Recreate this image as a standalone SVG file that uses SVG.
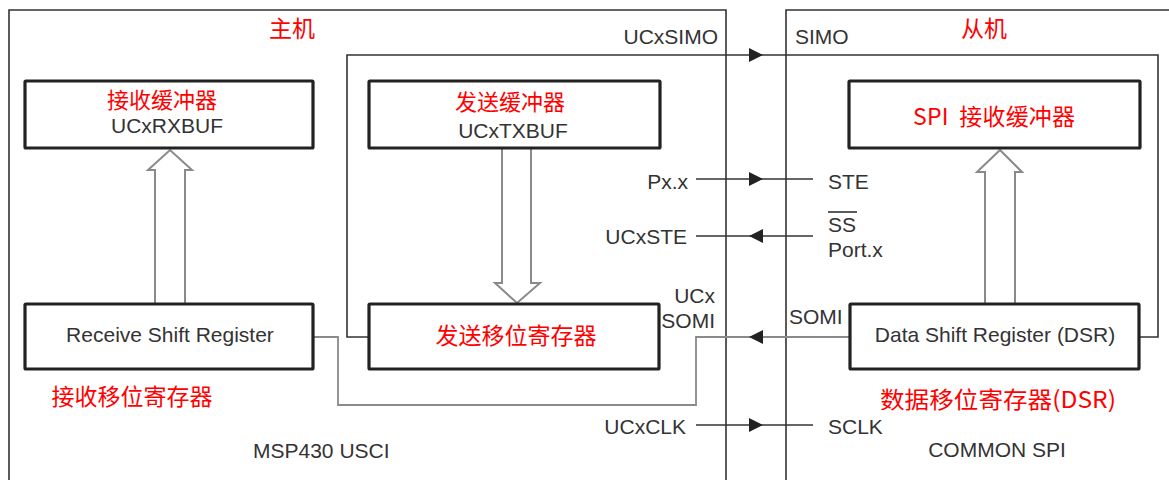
<svg xmlns="http://www.w3.org/2000/svg" width="1169" height="480" viewBox="0 0 1169 480">
<style>
.bg{fill:#ffffff}
.frame{fill:none;stroke:#333;stroke-width:1.6}
.box{fill:#fff;stroke:#222;stroke-width:3.2}
.wire{fill:none;stroke:#333;stroke-width:1.6}
.gwire{fill:none;stroke:#8a8a8a;stroke-width:1.8}
.hollow{fill:#fff;stroke:#8a8a8a;stroke-width:2}
.tri{fill:#222}
.t{font-family:"Liberation Sans",Arial,sans-serif;font-size:21px;fill:#333}
.cn{font-family:"Noto Sans CJK SC","Liberation Sans",sans-serif;font-size:23px;fill:#ff0000}
.cs{font-size:22px}
.m{text-anchor:middle}
.e{text-anchor:end}
</style>
<rect class="bg" x="0" y="0" width="1169" height="480"/>

<g id="master">
  <path class="frame" d="M9,480 V10 H726 V480"/>
  <text class="cn m" x="292" y="37">主机</text>
  <text class="t" x="253" y="458">MSP430 USCI</text>
</g>
<g id="slave">
  <path class="frame" d="M786,480 V10 H1169"/>
  <text class="cn m" x="984" y="37">从机</text>
  <text class="t m" x="997" y="457">COMMON SPI</text>
</g>

<g id="connectors">
  <path class="wire" d="M369,337 H347 V55 H1158 V337 H1140"/>
  <polygon class="tri" points="749,48 763,55 749,62"/>
  <path class="gwire" d="M850,337 H696 V405 H338 V337 H313"/>
  <polygon class="tri" points="763,330 749,337 763,344"/>
  <path class="wire" d="M696,179 H813"/>
  <polygon class="tri" points="749,172 763,179 749,186"/>
  <path class="wire" d="M696,236 H813"/>
  <polygon class="tri" points="763,229 749,236 763,243"/>
  <path class="wire" d="M696,425 H813"/>
  <polygon class="tri" points="749,418 763,425 749,432"/>
  <polygon class="hollow" points="155,304 155,170 148,170 170,150 192,170 185,170 185,304"/>
  <polygon class="hollow" points="502,148 502,283 495,283 517,303 540,283 531,283 531,148"/>
  <polygon class="hollow" points="985,304 985,172 977,172 1000,150 1022,172 1015,172 1015,304"/>
</g>

<g id="rxbuf">
  <rect class="box" x="25" y="81" width="288" height="67" rx="1"/>
  <text class="cn cs m" x="162" y="108">接收缓冲器</text>
  <text class="t m" x="167" y="133">UCxRXBUF</text>
</g>
<g id="txbuf">
  <rect class="box" x="369" y="81" width="291" height="67" rx="1"/>
  <text class="cn cs m" x="510" y="110">发送缓冲器</text>
  <text class="t m" x="513" y="138">UCxTXBUF</text>
</g>
<g id="spirxbuf">
  <rect class="box" x="849" y="81" width="291" height="67" rx="1"/>
  <text class="cn" x="913" y="125" textLength="162" lengthAdjust="spacing" xml:space="preserve">SPI  接收缓冲器</text>
</g>
<g id="rxshift">
  <rect class="box" x="25" y="304" width="288" height="65" rx="1"/>
  <text class="t m" x="170" y="342">Receive Shift Register</text>
  <text class="cn m" x="132" y="405">接收移位寄存器</text>
</g>
<g id="txshift">
  <rect class="box" x="369" y="304" width="290" height="65" rx="1"/>
  <text class="cn m" x="516" y="344">发送移位寄存器</text>
</g>
<g id="dsr">
  <rect class="box" x="850" y="304" width="289" height="65" rx="1"/>
  <text class="t m" x="995" y="342">Data Shift Register (DSR)</text>
  <text class="cn" x="880" y="408" textLength="236" lengthAdjust="spacingAndGlyphs">数据移位寄存器(DSR)</text>
</g>

<g id="labels">
  <text class="t e" x="718" y="44">UCxSIMO</text>
  <text class="t" x="795" y="44">SIMO</text>
  <text class="t e" x="688" y="189">Px.x</text>
  <text class="t" x="828" y="189">STE</text>
  <text class="t e" x="687" y="244">UCxSTE</text>
  <text class="t" x="828" y="232">SS</text>
  <path class="wire" d="M828,212 H857" stroke-width="2"/>
  <text class="t" x="828" y="257">Port.x</text>
  <text class="t e" x="715" y="303">UCx</text>
  <text class="t e" x="715" y="328">SOMI</text>
  <text class="t" x="789" y="324">SOMI</text>
  <text class="t e" x="686" y="434">UCxCLK</text>
  <text class="t" x="828" y="434">SCLK</text>
</g>
</svg>
